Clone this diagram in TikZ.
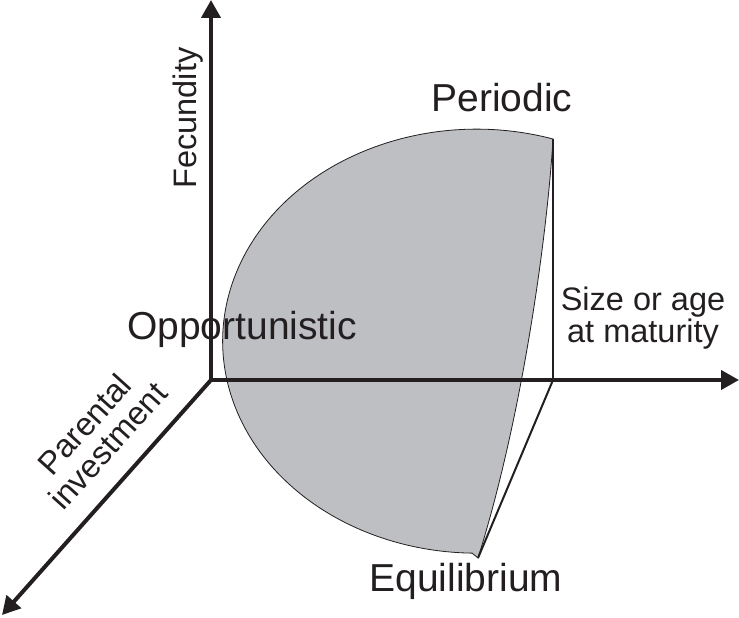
\documentclass[tikz,border=0pt]{standalone}
\usepackage{fontspec}
\setmainfont{Liberation Sans}
\usepackage{xcolor}
\usepackage{tikz}
\usetikzlibrary{arrows.meta,positioning,calc}
\definecolor{regionfill}{RGB}{189,191,194}
\definecolor{inkblack}{RGB}{35,31,32}
\tikzset{
  axisline/.style ={line width=4pt,draw=inkblack,
                    -{Triangle[length=18pt,width=19pt]}},
  edgeline/.style ={line width=2.4pt,draw=inkblack},
  regionbox/.style={fill=regionfill,draw=inkblack,line width=0.8pt},
  stratlbl/.style ={inner sep=0pt,text=inkblack,
                    font=\fontsize{39}{40}\selectfont},
  axislbl/.style  ={inner sep=0pt,text=inkblack,align=center,
                    font=\fontsize{32.5}{32}\selectfont},
}

\begin{document}
\begin{tikzpicture}[x=1pt,y=1pt]
\useasboundingbox (0,0) rectangle (739,618);

\coordinate (origin) at (211,238);
\coordinate (fectip) at (211,618);
\coordinate (sizetip) at (739,238);
\coordinate (partip) at (2,3);
\coordinate (per) at (553,479);
\coordinate (equi) at (478,60);
\coordinate (sizefoot) at (553,238);

% triangle region
\path[regionbox] (per) arc[start angle=72.5,end angle=269,
      x radius=254,y radius=212] -- (equi)
   .. controls (522,200) and (547,380) .. (per) -- cycle;

% axes
\draw[axisline] (origin) -- (fectip);
\draw[axisline] (origin) -- (sizetip);
\draw[axisline] (origin) -- (partip);

\draw[edgeline] (per) -- (sizefoot);
\draw[line width=2pt,draw=inkblack] (sizefoot) -- (equi);

% labels
\node[stratlbl,anchor=base] (perlbl) at (502,506) {Periodic};
\node[stratlbl,anchor=base] (opplbl) at (242,278) {Opportunistic};
\node[stratlbl,anchor=base] (equlbl) at (466,26) {Equilibrium};
\node[axislbl,rotate=90,anchor=base] (feclbl) at (196,500) {Fecundity};
\node[axislbl,anchor=base] (sizelbl) at (643,275) {Size or age\\at maturity};
\node[axislbl,rotate=48] (parlbl) at (96,183) {Parental\\investment};

\end{tikzpicture}
\end{document}
